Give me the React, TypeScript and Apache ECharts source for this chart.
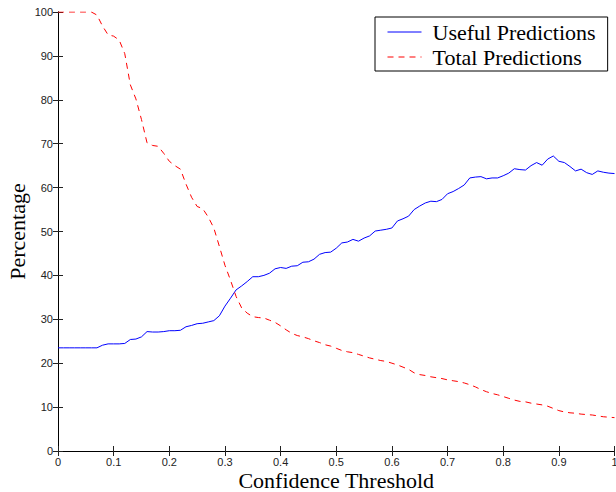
import React, { useEffect, useRef } from "react";
import * as echarts from "echarts";

const thresholds: number[] = Array.from({ length: 101 }, (_, i) => i / 100);

const usefulPredictions: number[] = [
  23.5, 23.5, 23.5, 23.5, 23.5, 23.5, 23.5, 23.5, 24.1, 24.4,
  24.4, 24.4, 24.5, 25.4, 25.5, 26.0, 27.2, 27.1, 27.1, 27.2,
  27.4, 27.4, 27.5, 28.3, 28.6, 29.0, 29.1, 29.4, 29.7, 30.8,
  33.0, 34.8, 36.7, 37.6, 38.6, 39.7, 39.7, 40.0, 40.5, 41.5,
  41.8, 41.6, 42.1, 42.2, 43.0, 43.1, 43.7, 44.8, 45.2, 45.3,
  46.2, 47.4, 47.6, 48.2, 47.8, 48.5, 49.0, 50.1, 50.3, 50.5,
  50.8, 52.4, 52.9, 53.5, 55.0, 55.8, 56.5, 56.9, 56.8, 57.3,
  58.6, 59.1, 59.8, 60.6, 62.2, 62.4, 62.5, 62.0, 62.2, 62.2,
  62.7, 63.3, 64.3, 64.1, 64.0, 65.0, 65.7, 65.1, 66.5, 67.2,
  66.0, 65.7, 64.8, 63.8, 64.2, 63.4, 63.0, 63.8, 63.5, 63.3,
  63.2,
];

const totalPredictions: number[] = [
  100, 100, 100, 100, 100, 100, 100, 99.3, 96.8, 94.8,
  94.5, 93.6, 90.5, 83.4, 80.2, 75.5, 70.2, 69.6, 69.4, 67.8,
  66.0, 65.0, 64.2, 60.8, 57.8, 55.7, 55.2, 53.3, 50.8, 46.6,
  42.3, 38.9, 35.2, 32.6, 31.4, 30.6, 30.4, 30.3, 29.8, 29.3,
  28.5, 27.6, 26.8, 26.3, 26.0, 25.6, 25.1, 24.7, 24.2, 23.9,
  23.4, 22.9, 22.6, 22.4, 22.0, 21.6, 21.2, 20.9, 20.6, 20.4,
  20.0, 19.6, 19.1, 18.6, 17.8, 17.4, 17.2, 16.9, 16.7, 16.5,
  16.2, 16.0, 15.8, 15.5, 15.1, 14.6, 14.0, 13.5, 13.1, 12.8,
  12.4, 12.0, 11.6, 11.3, 11.2, 10.9, 10.7, 10.5, 10.2, 9.7,
  9.2, 8.9, 8.7, 8.6, 8.4, 8.3, 8.2, 8.0, 7.8, 7.7,
  7.6,
];

const seriesNames = ["Useful Predictions", "Total Predictions"];
const xTitle = "Confidence Threshold";
const yTitle = "Percentage";

export default function App() {
  const ref = useRef<HTMLDivElement>(null);

  useEffect(() => {
    if (!ref.current) return;
    const chart = echarts.init(ref.current, undefined, { renderer: "svg" });
    const serif = "'Liberation Serif', 'Times New Roman', serif";
    const sans = "'Liberation Sans', Arial, Helvetica, sans-serif";
    const axisLine = { show: true, lineStyle: { color: "#000", width: 1 } };
    const axisTick = { show: true, inside: true, length: 5, lineStyle: { color: "#222", width: 1 } };
    const labelStyle = { fontFamily: sans, fontSize: 11, color: "#222" };

    chart.setOption({
      animation: false,
      backgroundColor: "#fff",
      grid: {
        left: 58,
        right: 1.5,
        top: 12,
        bottom: 41,
        containLabel: false,
        outerBoundsMode: "none",
      },
      legend: {
        show: true,
        left: 375,
        top: 17,
        orient: "vertical",
        data: seriesNames,
        borderColor: "#000",
        borderWidth: 1,
        backgroundColor: "#fff",
        padding: [4, 12, 3, 12],
        itemGap: 3,
        itemWidth: 34,
        itemHeight: 22,
        itemStyle: { opacity: 0 },
        lineStyle: { width: 1 },
        textStyle: { fontFamily: serif, fontSize: 22, color: "#000", padding: [0, 0, 0, 6] },
      },
      xAxis: [
        {
          type: "value",
          min: 0,
          max: 1,
          interval: 0.1,
          name: xTitle,
          nameLocation: "middle",
          nameGap: 18,
          nameMoveOverlap: false,
          nameTextStyle: { fontFamily: serif, fontSize: 22, color: "#000", lineHeight: 22 },
          axisLine,
          axisTick,
          axisLabel: { ...labelStyle, margin: 5 },
          splitLine: { show: false },
        },
        {
          type: "value",
          position: "top",
          min: 0,
          max: 1,
          interval: 0.1,
          axisLine,
          axisTick,
          axisLabel: { show: false },
          splitLine: { show: false },
        },
      ],
      yAxis: [
        {
          type: "value",
          min: 0,
          max: 100,
          interval: 10,
          name: yTitle,
          nameLocation: "middle",
          nameGap: 30,
          nameMoveOverlap: false,
          nameTextStyle: { fontFamily: serif, fontSize: 22, color: "#000", lineHeight: 22 },
          axisLine,
          axisTick,
          axisLabel: { ...labelStyle, margin: 5 },
          splitLine: { show: false },
        },
        {
          type: "value",
          position: "right",
          min: 0,
          max: 100,
          interval: 10,
          axisLine,
          axisTick,
          axisLabel: { show: false },
          splitLine: { show: false },
        },
      ],
      series: [
        {
          name: seriesNames[0],
          type: "line",
          xAxisIndex: 0,
          yAxisIndex: 0,
          showSymbol: false,
          symbol: "none",
          data: thresholds.map((t, i) => [t, usefulPredictions[i]]),
          lineStyle: { color: "#0000ff", width: 1 },
          itemStyle: { color: "#0000ff" },
        },
        {
          name: seriesNames[1],
          type: "line",
          xAxisIndex: 0,
          yAxisIndex: 0,
          showSymbol: false,
          symbol: "none",
          data: thresholds.map((t, i) => [t, totalPredictions[i]]),
          lineStyle: { color: "#ff0000", width: 1, type: [6, 5] },
          itemStyle: { color: "#ff0000" },
        },
      ],
    });
    return () => chart.dispose();
  }, []);

  return (
    <div
      ref={ref}
      style={{ position: "fixed", left: 0, top: 0, width: 616, height: 492, background: "#fff" }}
    />
  );
}
